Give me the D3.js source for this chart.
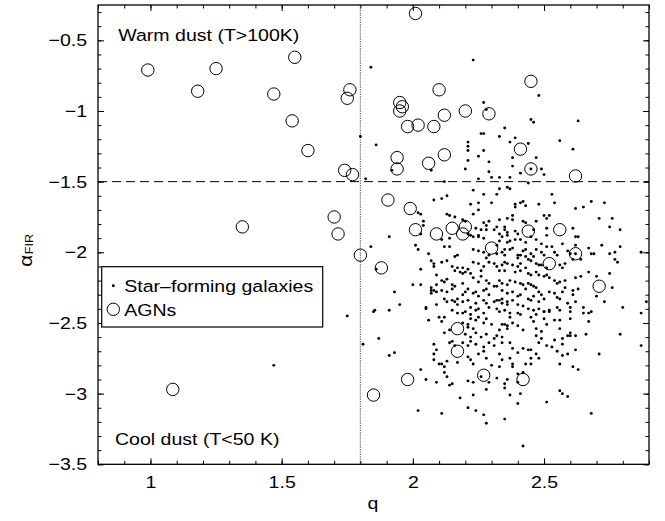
<!DOCTYPE html>
<head>
  <meta charset="utf-8">
  <script src="https://d3js.org/d3.v7.min.js"></script>
  <style>
    body { margin:0; background:#fff; }
    text { font-family: "Liberation Sans", Arial, Helvetica, sans-serif; fill:#000; }
  </style>
</head>
<body>
<script>

/* Data */
/* ==== */

// star-forming galaxies: [q, alpha_FIR]
var starForming = [
  [2.23,-0.64],[1.84,-0.69],[2.48,-0.89],[2.27,-0.94],[2.28,-0.99],[2.45,-1.06],[2.46,-1.08],[2.63,-1.07],
  [2.35,-1.12],[2.26,-1.16],[2.27,-1.16],[2.33,-1.18],[2.39,-1.19],[2.56,-1.21],[1.80,-1.18],[1.86,-1.24],
  [2.21,-1.22],[2.21,-1.25],[2.21,-1.28],[2.27,-1.28],[2.37,-1.22],[2.44,-1.23],[2.61,-1.27],[2.25,-1.32],
  [2.38,-1.33],[2.47,-1.33],[2.21,-1.35],[2.29,-1.36],[2.38,-1.39],[2.20,-1.41],[2.45,-1.41],[2.49,-1.41],
  [2.41,-1.44],[2.50,-1.45],[2.29,-1.43],[2.30,-1.47],[2.33,-1.47],[2.37,-1.47],[2.25,-1.48],[1.92,-1.42],
  [2.07,-1.42],[1.82,-1.48],[2.12,-1.50],[2.44,-1.51],[2.36,-1.54],[2.37,-1.55],[2.23,-1.56],[2.33,-1.55],
  [2.27,-1.59],[2.32,-1.59],[2.53,-1.59],[2.13,-1.60],[2.11,-1.62],[2.08,-1.63],
  [2.22,-1.66],[2.25,-1.65],[2.25,-1.70],[2.13,-1.73],[2.14,-1.74],[2.16,-1.75],[2.02,-1.72],[2.03,-1.73],
  [2.23,-1.73],[2.19,-1.77],[2.20,-1.78],[2.04,-1.78],[2.04,-1.81],[2.28,-1.81],[2.28,-1.84],[2.03,-1.87],
  [2.11,-1.91],[2.14,-1.90],[2.21,-1.87],[2.22,-1.88],[2.23,-1.89],[2.25,-1.88],[2.25,-1.89],[2.27,-1.90],
  [1.91,-1.89],[1.84,-1.96],[2.01,-1.95],[2.02,-1.98],[2.12,-1.96],[2.14,-1.96],[2.17,-2.02],[2.16,-2.03],
  [2.06,-2.01],[2.25,-1.99],[2.27,-2.00],[2.23,-1.98],[2.29,-2.02],[1.86,-2.12],[2.07,-2.06],[2.08,-2.08],
  [2.11,-2.07],[2.13,-2.06],[2.08,-2.10],[2.03,-2.12],[2.15,-2.10],[2.17,-2.11],[2.23,-2.07],[2.25,-2.08],
  [2.26,-2.13],[2.27,-2.10],[2.19,-2.11],[2.21,-2.12],[2.22,-2.15],[2.19,-2.15],[2.20,-2.14],[2.09,-2.16],
  [2.11,-2.20],[2.12,-2.21],[2.13,-2.19],[2.03,-2.23],[2.00,-2.23],[2.07,-2.25],[2.08,-2.27],[2.09,-2.23],
  [2.15,-2.23],[2.16,-2.24],[2.21,-2.26],[2.20,-2.28],[2.19,-2.30],[2.07,-2.27],[2.09,-2.28],[2.07,-2.29],
  [2.11,-2.27],[2.13,-2.28],[2.15,-2.26],[2.23,-2.29],[2.24,-2.28],[2.25,-2.31],[2.27,-2.27],[2.28,-2.26],
  [2.29,-2.30],[1.93,-2.28],[1.95,-2.37],[1.91,-2.41],[1.85,-2.42],[1.855,-2.41],[2.05,-2.39],[2.05,-2.40],
  [2.09,-2.37],[2.12,-2.33],[2.13,-2.35],[2.15,-2.34],[2.16,-2.35],[2.17,-2.37],[2.17,-2.33],[2.19,-2.35],
  [2.21,-2.34],[2.22,-2.39],[2.24,-2.36],[2.25,-2.40],[2.27,-2.34],[2.28,-2.36],[2.29,-2.39],[2.31,-2.35],
  [2.15,-2.41],[2.17,-2.43],[2.20,-2.42],[2.22,-2.44],[2.24,-2.41],[2.27,-2.43],
  [1.75,-2.45],[2.06,-2.48],[2.10,-2.46],[2.11,-2.49],[2.12,-2.46],[2.19,-2.43],[2.19,-2.50],[2.21,-2.53],
  [2.22,-2.47],[2.24,-2.48],[2.25,-2.46],[2.27,-2.50],[2.28,-2.47],[2.30,-2.51],[2.12,-2.57],[2.14,-2.55],
  [2.20,-2.58],[2.22,-2.60],[2.24,-2.57],[2.26,-2.60],[2.28,-2.58],[2.31,-2.61],[1.87,-2.61],[1.81,-2.65],
  [2.08,-2.65],[2.09,-2.69],[2.08,-2.72],[2.14,-2.64],[2.15,-2.63],[2.16,-2.66],[2.19,-2.64],[2.21,-2.66],
  [2.22,-2.63],[2.24,-2.65],[2.27,-2.67],[2.29,-2.64],[2.31,-2.66],[1.91,-2.73],[1.93,-2.71],[2.08,-2.76],
  [2.10,-2.79],[2.11,-2.79],[2.13,-2.77],[2.12,-2.81],[2.12,-2.85],[2.17,-2.78],[2.21,-2.74],[2.22,-2.76],
  [2.23,-2.79],[2.25,-2.72],[2.27,-2.70],[2.28,-2.75],[2.30,-2.80],[2.03,-2.83],[2.05,-2.90],[2.09,-2.92],
  [2.13,-2.88],[2.14,-2.94],[2.15,-2.93],[2.21,-2.91],[2.23,-2.92],[2.26,-2.88],[2.29,-2.92],[2.28,-2.97],
  [2.23,-3.01],[2.18,-3.03],[2.02,-3.12],[2.11,-3.14],[2.21,-3.10],[2.24,-3.12],[2.27,-3.15],[2.28,-3.21],
  [2.35,-3.18],[2.40,-3.07],[2.41,-3.00],[2.42,-3.37],[2.51,-3.06],[2.56,-2.98],[2.57,-3.00],[2.59,-3.02],
  [2.68,-3.14],[2.71,-2.72],[2.79,-2.58],[2.87,-2.66],[2.36,-2.90],[2.35,-2.93],[2.35,-2.96],[2.37,-3.01],
  [2.32,-2.89],[2.38,-2.79],[2.38,-2.81],[2.40,-2.86],[2.45,-2.79],[2.43,-2.79],[2.48,-2.75],[2.47,-2.72],
  [2.56,-2.79],[2.57,-2.73],[2.59,-2.72],[2.61,-2.81],[2.63,-2.83],[2.62,-2.69],[2.66,-2.58],[2.51,-2.66],
  [2.53,-2.67],[2.57,-2.65],[2.60,-2.59],[2.62,-2.59],[2.40,-2.92],[2.42,-2.85],
  [2.40,-2.43],[2.41,-2.44],[2.37,-2.46],[2.35,-2.51],[2.36,-2.52],[2.36,-2.54],[2.34,-2.51],[2.33,-2.55],
  [2.32,-2.59],[2.34,-2.60],[2.37,-2.64],[2.38,-2.68],[2.40,-2.71],[2.42,-2.68],[2.44,-2.69],[2.45,-2.69],
  [2.45,-2.75],[2.37,-2.75],[2.34,-2.76],[2.33,-2.81],[2.33,-2.72],[2.34,-2.64],[2.68,-2.42],[2.67,-2.43],
  [2.65,-2.43],[2.67,-2.49],[2.60,-2.57],[2.59,-2.59],[2.55,-2.70],[2.57,-2.61],[2.56,-2.54],[2.54,-2.48],
  [2.56,-2.48],[2.51,-2.51],[2.50,-2.47],[2.47,-2.44],[2.50,-2.42],[2.52,-2.42],[2.60,-2.42],[2.60,-2.47],
  [2.49,-2.56],[2.47,-2.54],[2.49,-2.61],[2.48,-2.64],[2.54,-2.62],[2.47,-2.59],[2.87,-2.43],[2.89,-2.35],
  [2.39,-1.66],[2.39,-1.68],[2.41,-1.65],[2.42,-1.64],[2.43,-1.67],[2.48,-1.66],[2.54,-1.65],[2.68,-1.64],
  [2.73,-1.65],[2.62,-1.69],[2.65,-1.68],[2.50,-1.74],[2.52,-1.74],[2.51,-1.76],[2.36,-1.76],[2.38,-1.74],
  [2.38,-1.77],[2.42,-1.78],[2.43,-1.79],[2.47,-1.78],[2.33,-1.77],[2.71,-1.76],[2.76,-1.76],[2.75,-1.82],
  [2.79,-1.84],[2.35,-1.82],[2.61,-1.83],[2.51,-1.83],[2.46,-1.84],[2.45,-1.89],[2.39,-1.85],[2.40,-1.87],
  [2.31,-1.84],[2.33,-1.87],[2.34,-1.89],[2.36,-1.88],[2.51,-1.88],[2.62,-1.89],[2.63,-1.89],[2.39,-1.91],
  [2.41,-1.91],[2.43,-1.93],[2.36,-1.93],[2.37,-1.92],[2.33,-1.92],[2.32,-1.95],[2.57,-1.94],[2.72,-1.95],
  [2.79,-1.96],[2.53,-1.96],[2.51,-1.96],[2.62,-1.95],[2.47,-1.98],[2.49,-2.00],[2.50,-2.02],[2.42,-1.99],
  [2.43,-1.98],[2.38,-1.97],[2.37,-1.98],[2.35,-1.98],[2.34,-2.00],[2.35,-2.02],[2.32,-2.01],[2.40,-2.02],
  [2.40,-2.04],[2.41,-2.02],[2.45,-2.01],[2.46,-2.03],[2.44,-2.05],[2.54,-2.00],[2.55,-2.02],[2.59,-1.99],
  [2.60,-2.01],[2.62,-2.01],[2.67,-1.97],[2.68,-2.01],[2.69,-2.01],[2.75,-2.01],[2.77,-2.00],[2.77,-2.05],
  [2.78,-2.07],[2.87,-2.00],[2.64,-2.05],[2.61,-2.05],[2.58,-2.08],[2.56,-2.09],[2.57,-2.11],[2.49,-2.09],
  [2.51,-2.11],[2.47,-2.08],[2.48,-2.09],[2.35,-2.07],[2.34,-2.09],[2.32,-2.10],[2.33,-2.13],[2.35,-2.13],
  [2.36,-2.08],[2.38,-2.09],[2.40,-2.10],[2.41,-2.08],[2.43,-2.11],[2.41,-2.13],[2.39,-2.14],[2.44,-2.15],
  [2.45,-2.16],[2.47,-2.14],[2.48,-2.16],[2.50,-2.17],[2.51,-2.16],[2.52,-2.18],[2.54,-2.20],[2.55,-2.22],
  [2.56,-2.21],[2.58,-2.20],[2.62,-2.18],[2.64,-2.17],[2.67,-2.14],[2.75,-2.15],[2.70,-2.17],[2.76,-2.25],
  [2.70,-2.31],[2.73,-2.35],[2.80,-2.39],[2.65,-2.39],[2.62,-2.35],[2.60,-2.39],[2.59,-2.36],[2.61,-2.30],
  [2.61,-2.27],[2.63,-2.26],[2.57,-2.28],[2.58,-2.25],[2.56,-2.33],[2.52,-2.28],[2.54,-2.29],[2.55,-2.32],
  [2.48,-2.28],[2.49,-2.30],[2.50,-2.33],[2.45,-2.23],[2.47,-2.25],[2.41,-2.22],[2.42,-2.23],[2.43,-2.26],
  [2.37,-2.20],[2.39,-2.21],[2.36,-2.23],[2.33,-2.20],[2.34,-2.22],[2.32,-2.24],[2.34,-2.27],[2.36,-2.29],
  [2.38,-2.28],[2.40,-2.31],[2.41,-2.30],[2.44,-2.33],[2.45,-2.34],[2.46,-2.31],[2.48,-2.35],[2.34,-2.33],
  [2.33,-2.34],[2.36,-2.35],[2.38,-2.34],[2.40,-2.37],[2.42,-2.38],[2.44,-2.40],[2.46,-2.41],[2.48,-2.40],
  [2.50,-2.42],[2.52,-2.41],[2.55,-2.39],[2.56,-2.41],[2.32,-2.40],[2.33,-2.42],[2.35,-2.41],[2.37,-2.43],
  [1.47,-2.80],
  [2.30,-1.65],[2.27,-1.79],[2.29,-1.78],[2.24,-1.83],[2.26,-1.84],[2.32,-1.82],[2.35,-1.84],[2.36,-1.86],
  [2.28,-2.04],[2.29,-2.07],[2.31,-2.08],[2.26,-2.17],[2.28,-2.20],[2.29,-2.22],[2.31,-2.24],[2.23,-2.18],
  [2.25,-2.21],[2.19,-2.22],[2.16,-2.13],[2.18,-2.14],[2.32,-2.34],[2.34,-2.36],[2.36,-2.37],[2.44,-2.22],
  [2.46,-2.24],[2.43,-2.03],[2.45,-2.06],[2.47,-1.91],[2.49,-1.94],[2.21,-2.51],[2.23,-2.54],[2.38,-2.50],
  [2.40,-2.52],[2.42,-2.55],[2.45,-2.46],[2.46,-2.49]
];

// AGNs: [q, alpha_FIR]
var agns = [
  [0.99,-0.71],[1.18,-0.86],[1.25,-0.70],[1.47,-0.88],[1.55,-0.62],[1.54,-1.07],[1.60,-1.28],
  [2.01,-0.31],[1.76,-0.85],[1.75,-0.91],[2.10,-0.85],[1.95,-0.94],[1.96,-0.97],[1.95,-1.00],
  [2.12,-1.03],[2.20,-1.00],[2.29,-1.02],[2.45,-0.79],[1.98,-1.11],[2.02,-1.10],[2.08,-1.11],
  [1.94,-1.33],[1.94,-1.41],[2.12,-1.31],[2.06,-1.37],[2.41,-1.27],[2.45,-1.41],[2.62,-1.46],
  [1.74,-1.42],[1.77,-1.45],[1.905,-1.63],[1.99,-1.69],[1.70,-1.75],[1.715,-1.87],[2.01,-1.84],
  [2.09,-1.87],[2.15,-1.83],[2.20,-1.82],[2.19,-1.87],[1.80,-2.02],[1.88,-2.11],[2.30,-1.97],
  [2.44,-1.85],[2.56,-1.84],[2.52,-2.08],[2.62,-2.01],[2.71,-2.24],[2.17,-2.54],[2.17,-2.70],
  [2.27,-2.87],[1.98,-2.90],[1.85,-3.01],[2.42,-2.90],[1.085,-2.97],[1.35,-1.82]
];

var xTicks = [1, 1.5, 2, 2.5],
    xTickLabels = ["1", "1.5", "2", "2.5"];
var yTicks = [-3.5, -3, -2.5, -2, -1.5, -1, -0.5],
    yTickLabels = ["\u22123.5", "\u22123", "\u22122.5", "\u22122", "\u22121.5", "\u22121", "\u22120.5"];

var qCut = 1.8,        // vertical dotted line
    alphaCut = -1.5;   // horizontal dashed line

var legendLabels = ["Star\u2013forming galaxies", "AGNs"];


/* Set up */
/* ====== */

var width = 665,
    height = 521,
    stretch = 1.15,
    fontSize = 17;

var svg = d3.select('body')
  .append('svg')
    .attr('width', width)
    .attr('height', height);

svg.append('rect')
    .attr('width', width)
    .attr('height', height)
    .attr('fill', '#fff');

var x = d3.scaleLinear().domain([0.8, 2.9]).range([98, 649]);
var y = d3.scaleLinear().domain([-3.5, -0.25]).range([464.3, 5]);

var xMinor = d3.range(8, 30).map(function(d) { return d / 10; });
var yMinor = d3.range(-35, -2).map(function(d) { return d / 10; });

// stretched text helper (the original font is wide)
function label(g, px, py, str, anchor) {
  return g.append('g')
      .attr('transform', 'translate(' + px + ',' + py + ') scale(' + stretch + ',1)')
    .append('text')
      .attr('font-size', fontSize)
      .attr('text-anchor', anchor || 'start')
      .text(str);
}


/* Reference lines */
/* =============== */

svg.append('line')
    .attr('x1', x(qCut)).attr('x2', x(qCut))
    .attr('y1', y.range()[1]).attr('y2', y.range()[0])
    .attr('stroke', '#666')
    .attr('stroke-width', 1.2)
    .attr('stroke-dasharray', '1.2,1.2');

svg.append('line')
    .attr('x1', x.range()[0]).attr('x2', x.range()[1])
    .attr('y1', y(alphaCut)).attr('y2', y(alphaCut))
    .attr('stroke', '#000')
    .attr('stroke-width', 1)
    .attr('stroke-dasharray', '9,5');


/* Points */
/* ====== */

svg.append('g')
  .selectAll('circle')
    .data(starForming)
    .enter()
  .append('circle')
    .attr('cx', function(d) { return x(d[0]); })
    .attr('cy', function(d) { return y(d[1]); })
    .attr('r', 1.45)
    .attr('fill', '#000');

svg.append('g')
  .selectAll('circle')
    .data(agns)
    .enter()
  .append('circle')
    .attr('cx', function(d) { return x(d[0]); })
    .attr('cy', function(d) { return y(d[1]); })
    .attr('r', 6.2)
    .attr('fill', 'none')
    .attr('stroke', '#000')
    .attr('stroke-width', 1);


/* Axes */
/* ==== */

function clean(g) {
  g.select('.domain').remove();
  g.selectAll('line').attr('stroke', '#000').attr('stroke-width', 1);
  g.attr('font-size', fontSize).attr('font-family', null);
}

var x0 = x.range()[0], x1 = x.range()[1],
    y0 = y.range()[0], y1 = y.range()[1];

// bottom
svg.append('g').attr('transform', 'translate(0,' + y0 + ')')
    .call(d3.axisBottom(x).tickValues(xMinor).tickSize(-3.5).tickFormat(''))
    .call(clean);
var bottom = svg.append('g').attr('transform', 'translate(0,' + y0 + ')')
    .call(d3.axisBottom(x).tickValues(xTicks).tickSize(-6).tickPadding(12)
      .tickFormat(function(d, i) { return xTickLabels[i]; }))
    .call(clean);
bottom.selectAll('text').attr('transform', 'scale(' + stretch + ',1)');

// top
svg.append('g').attr('transform', 'translate(0,' + y1 + ')')
    .call(d3.axisTop(x).tickValues(xMinor).tickSize(-3.5).tickFormat(''))
    .call(clean);
svg.append('g').attr('transform', 'translate(0,' + y1 + ')')
    .call(d3.axisTop(x).tickValues(xTicks).tickSize(-6).tickFormat(''))
    .call(clean);

// left
svg.append('g').attr('transform', 'translate(' + x0 + ',0)')
    .call(d3.axisLeft(y).tickValues(yMinor).tickSize(-3.5).tickFormat(''))
    .call(clean);
var left = svg.append('g').attr('transform', 'translate(' + x0 + ',0)')
    .call(d3.axisLeft(y).tickValues(yTicks).tickSize(-6).tickPadding(9.5)
      .tickFormat(function(d, i) { return yTickLabels[i]; }))
    .call(clean);
left.selectAll('text').attr('transform', 'scale(' + stretch + ',1)');

// right
svg.append('g').attr('transform', 'translate(' + x1 + ',0)')
    .call(d3.axisRight(y).tickValues(yMinor).tickSize(-3.5).tickFormat(''))
    .call(clean);
svg.append('g').attr('transform', 'translate(' + x1 + ',0)')
    .call(d3.axisRight(y).tickValues(yTicks).tickSize(-6).tickFormat(''))
    .call(clean);

// frame
svg.append('rect')
    .attr('x', x0).attr('y', y1)
    .attr('width', x1 - x0).attr('height', y0 - y1)
    .attr('fill', 'none')
    .attr('stroke', '#000')
    .attr('stroke-width', 1.3);


/* Labels */
/* ====== */

label(svg, 118.3, 41, 'Warm dust (T>100K)');
label(svg, 115, 445, 'Cool dust (T<50 K)');
label(svg, 373, 509, 'q', 'middle');

var ylab = svg.append('g')
    .attr('transform', 'translate(31.7,266.7) rotate(-90) scale(' + stretch + ',1)')
  .append('text')
    .attr('font-size', 18);
ylab.append('tspan').text('\u03b1');
ylab.append('tspan')
    .attr('dx', 0.5).attr('dy', 1.6)
    .attr('font-size', 11)
    .text('FIR');


/* Legend */
/* ====== */

var legend = svg.append('g');

legend.append('rect')
    .attr('x', 101.7).attr('y', 266.7)
    .attr('width', 221).attr('height', 60.3)
    .attr('fill', '#fff')
    .attr('stroke', '#000')
    .attr('stroke-width', 1.2);

legend.append('circle')
    .attr('cx', 113.3).attr('cy', 285.7)
    .attr('r', 1.45)
    .attr('fill', '#000');

legend.append('circle')
    .attr('cx', 113.3).attr('cy', 309.3)
    .attr('r', 6.2)
    .attr('fill', 'none')
    .attr('stroke', '#000');

label(legend, 124.3, 291.7, legendLabels[0]);
label(legend, 124.3, 315.7, legendLabels[1]);

</script>
</body>
